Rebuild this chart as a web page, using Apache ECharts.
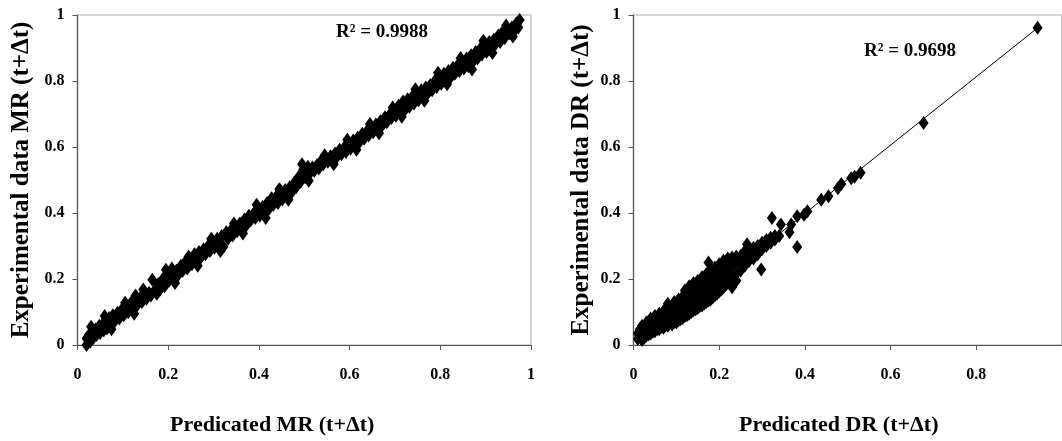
<!DOCTYPE html>
<html>
<head>
<meta charset="utf-8">
<script src="https://cdn.jsdelivr.net/npm/echarts@6/dist/echarts.min.js"></script>
<style>
  html, body { margin: 0; padding: 0; background: #fff; }
  #chart { width: 1062px; height: 441px; }
</style>
</head>
<body>
<div id="chart"></div>
<script>
// axis ticks (both panels)
var tickValues = [0, 0.2, 0.4, 0.6, 0.8, 1];

// left panel: predicted vs experimental MR
var mrPoints = [
  [0.020, 0.000], [0.020, 0.020], [0.025, 0.030], [0.028, 0.010], [0.032, 0.040], [0.035, 0.022],
  [0.040, 0.048], [0.042, 0.030], [0.048, 0.058], [0.050, 0.036], [0.055, 0.062], [0.058, 0.045],
  [0.062, 0.072], [0.065, 0.050], [0.070, 0.082], [0.073, 0.062], [0.078, 0.090], [0.082, 0.072],
  [0.088, 0.098], [0.092, 0.080], [0.098, 0.108], [0.102, 0.090], [0.108, 0.118], [0.112, 0.100],
  [0.118, 0.128], [0.122, 0.112], [0.128, 0.150], [0.132, 0.122], [0.138, 0.142], [0.142, 0.130],
  [0.148, 0.160], [0.152, 0.140], [0.158, 0.158], [0.162, 0.150], [0.165, 0.198], [0.170, 0.165],
  [0.178, 0.185], [0.182, 0.168], [0.188, 0.200], [0.192, 0.178], [0.198, 0.212], [0.202, 0.195],
  [0.208, 0.232], [0.212, 0.205], [0.218, 0.225], [0.222, 0.212], [0.228, 0.240], [0.232, 0.225],
  [0.238, 0.252], [0.242, 0.232], [0.248, 0.258], [0.252, 0.245], [0.258, 0.275], [0.262, 0.255],
  [0.268, 0.282], [0.272, 0.265], [0.278, 0.290], [0.282, 0.275], [0.288, 0.300], [0.292, 0.285],
  [0.298, 0.312], [0.302, 0.295], [0.308, 0.322], [0.312, 0.305], [0.318, 0.330], [0.322, 0.298],
  [0.328, 0.342], [0.332, 0.322], [0.338, 0.348], [0.342, 0.332], [0.348, 0.355], [0.352, 0.345],
  [0.358, 0.368], [0.362, 0.352], [0.368, 0.380], [0.372, 0.362], [0.378, 0.392], [0.382, 0.378],
  [0.388, 0.398], [0.392, 0.385], [0.398, 0.410], [0.402, 0.392], [0.408, 0.418], [0.412, 0.402],
  [0.418, 0.430], [0.422, 0.412], [0.428, 0.445], [0.432, 0.425], [0.438, 0.450], [0.442, 0.430],
  [0.448, 0.468], [0.452, 0.442], [0.458, 0.470], [0.462, 0.455], [0.468, 0.478], [0.472, 0.462],
  [0.478, 0.492], [0.482, 0.478], [0.488, 0.510], [0.492, 0.495], [0.498, 0.532], [0.502, 0.508],
  [0.508, 0.540], [0.512, 0.520], [0.518, 0.538], [0.522, 0.528], [0.528, 0.545], [0.532, 0.535],
  [0.538, 0.560], [0.542, 0.548], [0.548, 0.565], [0.552, 0.555], [0.558, 0.572], [0.562, 0.562],
  [0.568, 0.580], [0.572, 0.570], [0.578, 0.592], [0.582, 0.578], [0.588, 0.598], [0.592, 0.585],
  [0.598, 0.610], [0.602, 0.595], [0.608, 0.620], [0.612, 0.605], [0.618, 0.628], [0.622, 0.615],
  [0.628, 0.640], [0.632, 0.625], [0.638, 0.648], [0.642, 0.635], [0.648, 0.658], [0.652, 0.645],
  [0.658, 0.668], [0.662, 0.655], [0.668, 0.678], [0.672, 0.665], [0.678, 0.690], [0.682, 0.675],
  [0.688, 0.698], [0.692, 0.688], [0.698, 0.708], [0.702, 0.695], [0.708, 0.725], [0.712, 0.705],
  [0.718, 0.738], [0.722, 0.712], [0.728, 0.745], [0.732, 0.722], [0.738, 0.752], [0.742, 0.732],
  [0.748, 0.765], [0.752, 0.742], [0.758, 0.772], [0.762, 0.752], [0.768, 0.780], [0.772, 0.762],
  [0.778, 0.788], [0.782, 0.772], [0.788, 0.800], [0.792, 0.782], [0.798, 0.812], [0.802, 0.792],
  [0.808, 0.822], [0.812, 0.800], [0.818, 0.830], [0.822, 0.810], [0.828, 0.840], [0.832, 0.822],
  [0.838, 0.848], [0.842, 0.830], [0.848, 0.858], [0.852, 0.838], [0.858, 0.868], [0.862, 0.845],
  [0.868, 0.878], [0.872, 0.858], [0.878, 0.888], [0.882, 0.868], [0.888, 0.898], [0.892, 0.880],
  [0.898, 0.910], [0.902, 0.888], [0.908, 0.918], [0.912, 0.900], [0.918, 0.925], [0.922, 0.912],
  [0.928, 0.938], [0.932, 0.918], [0.938, 0.950], [0.942, 0.930], [0.948, 0.955], [0.952, 0.945],
  [0.958, 0.962], [0.962, 0.950], [0.968, 0.975], [0.972, 0.962], [0.975, 0.985]
];

// left panel: points on the upper and lower edges of the band
var mrEdgePoints = [
  [0.030, 0.055], [0.060, 0.088], [0.075, 0.048], [0.105, 0.128], [0.125, 0.095], [0.145, 0.168],
  [0.175, 0.155], [0.195, 0.228], [0.215, 0.188], [0.245, 0.268], [0.265, 0.240], [0.295, 0.322],
  [0.315, 0.285], [0.345, 0.368], [0.365, 0.338], [0.395, 0.425], [0.415, 0.385], [0.445, 0.472],
  [0.465, 0.440], [0.495, 0.548], [0.510, 0.498], [0.545, 0.575], [0.565, 0.548], [0.595, 0.622],
  [0.615, 0.592], [0.645, 0.670], [0.665, 0.642], [0.695, 0.720], [0.715, 0.692], [0.745, 0.775],
  [0.765, 0.740], [0.795, 0.825], [0.815, 0.790], [0.845, 0.870], [0.870, 0.835], [0.895, 0.922],
  [0.915, 0.885], [0.945, 0.968], [0.960, 0.935]
];

// right panel: predicted vs experimental DR
var drPoints = [
  [0.010, 0.018], [0.010, 0.035], [0.015, 0.025], [0.015, 0.048], [0.020, 0.015], [0.020, 0.038],
  [0.020, 0.058], [0.025, 0.022], [0.025, 0.045], [0.030, 0.028], [0.030, 0.052], [0.030, 0.068],
  [0.035, 0.032], [0.035, 0.058], [0.040, 0.035], [0.040, 0.060], [0.040, 0.080], [0.045, 0.040],
  [0.045, 0.065], [0.050, 0.042], [0.050, 0.068], [0.050, 0.088], [0.055, 0.048], [0.055, 0.075],
  [0.060, 0.048], [0.060, 0.072], [0.060, 0.095], [0.065, 0.055], [0.065, 0.080], [0.070, 0.052],
  [0.070, 0.078], [0.070, 0.102], [0.075, 0.060], [0.075, 0.088], [0.080, 0.058], [0.080, 0.085],
  [0.080, 0.112], [0.080, 0.125], [0.085, 0.065], [0.085, 0.095], [0.090, 0.062], [0.090, 0.090],
  [0.090, 0.118], [0.095, 0.070], [0.095, 0.100], [0.095, 0.130], [0.100, 0.068], [0.100, 0.095],
  [0.100, 0.122], [0.105, 0.075], [0.105, 0.105], [0.105, 0.138], [0.110, 0.078], [0.110, 0.102],
  [0.110, 0.128], [0.115, 0.082], [0.115, 0.112], [0.115, 0.148], [0.120, 0.088], [0.120, 0.115],
  [0.120, 0.140], [0.120, 0.165], [0.125, 0.090], [0.125, 0.122], [0.125, 0.155], [0.130, 0.095],
  [0.130, 0.125], [0.130, 0.150], [0.130, 0.178], [0.135, 0.100], [0.135, 0.132], [0.135, 0.165],
  [0.140, 0.105], [0.140, 0.135], [0.140, 0.160], [0.140, 0.188], [0.145, 0.108], [0.145, 0.140],
  [0.145, 0.172], [0.150, 0.112], [0.150, 0.145], [0.150, 0.175], [0.150, 0.195], [0.155, 0.118],
  [0.155, 0.150], [0.155, 0.182], [0.160, 0.120], [0.160, 0.155], [0.160, 0.185], [0.160, 0.205],
  [0.165, 0.125], [0.165, 0.158], [0.165, 0.192], [0.170, 0.130], [0.170, 0.162], [0.170, 0.195],
  [0.170, 0.215], [0.175, 0.135], [0.175, 0.170], [0.175, 0.250], [0.180, 0.138], [0.180, 0.175],
  [0.180, 0.205], [0.180, 0.225], [0.185, 0.145], [0.185, 0.180], [0.185, 0.212], [0.190, 0.150],
  [0.190, 0.185], [0.190, 0.215], [0.190, 0.235], [0.195, 0.155], [0.195, 0.190], [0.195, 0.225],
  [0.200, 0.162], [0.200, 0.195], [0.200, 0.228], [0.200, 0.245], [0.205, 0.168], [0.205, 0.200],
  [0.205, 0.235], [0.210, 0.175], [0.210, 0.205], [0.210, 0.240], [0.210, 0.255], [0.215, 0.182],
  [0.215, 0.215], [0.215, 0.245], [0.220, 0.188], [0.220, 0.222], [0.220, 0.262], [0.225, 0.195],
  [0.225, 0.230], [0.225, 0.258], [0.230, 0.175], [0.230, 0.205], [0.230, 0.240], [0.230, 0.265],
  [0.240, 0.195], [0.240, 0.215], [0.240, 0.250], [0.240, 0.268], [0.250, 0.225], [0.250, 0.258],
  [0.250, 0.270], [0.260, 0.240], [0.260, 0.262], [0.260, 0.285], [0.265, 0.305], [0.270, 0.255],
  [0.270, 0.275], [0.280, 0.262], [0.280, 0.285], [0.280, 0.295], [0.290, 0.275], [0.290, 0.300],
  [0.298, 0.229], [0.300, 0.290], [0.300, 0.310], [0.310, 0.300], [0.310, 0.318], [0.320, 0.310],
  [0.320, 0.325], [0.323, 0.385], [0.330, 0.320], [0.330, 0.330], [0.340, 0.330], [0.344, 0.365],
  [0.364, 0.342], [0.368, 0.365], [0.382, 0.297], [0.382, 0.390], [0.398, 0.395], [0.406, 0.405],
  [0.438, 0.440], [0.455, 0.451], [0.477, 0.475], [0.485, 0.488], [0.508, 0.505], [0.516, 0.510],
  [0.530, 0.522], [0.677, 0.673], [0.943, 0.961]
];

// linear trend line drawn through the DR points (end points)
var drTrend = [[0.015, 0.000], [0.943, 0.961]];

var mrR2 = 'R\u00b2 = 0.9988';
var drR2 = 'R\u00b2 = 0.9698';

var serif = '"Liberation Serif", "Times New Roman", serif';
var labelStyle = { fontFamily: serif, fontWeight: 'bold', fontSize: 16, color: '#000' };
var diamond = { symbol: 'diamond', symbolSize: [10, 14], itemStyle: { color: '#000', opacity: 1 }, z: 3 };

function xAxisFor(gridIndex, name, pad, hideMax) {
  return {
    type: 'value', gridIndex: gridIndex, min: tickValues[0], max: tickValues[tickValues.length - 1], interval: 0.2,
    name: name, nameLocation: 'middle', nameGap: 69,
    nameTextStyle: { fontFamily: serif, fontWeight: 'bold', fontSize: 22, color: '#000', padding: [0, pad, 0, 0] },
    axisLine: { show: true, lineStyle: { color: '#555', width: 1.2 } },
    axisTick: { show: true, inside: false, length: 5, lineStyle: { color: '#555' } },
    axisLabel: Object.assign({ margin: 22, showMaxLabel: !hideMax }, labelStyle),
    splitLine: { show: false }
  };
}

function yAxisFor(gridIndex, name, gap) {
  return {
    type: 'value', gridIndex: gridIndex, min: tickValues[0], max: tickValues[tickValues.length - 1], interval: 0.2,
    name: name, nameLocation: 'middle', nameGap: gap, nameRotate: 90,
    nameTextStyle: { fontFamily: serif, fontWeight: 'bold', fontSize: 25, color: '#000' },
    axisLine: { show: true, lineStyle: { color: '#555', width: 1.2 } },
    axisTick: { show: true, inside: false, length: 5, lineStyle: { color: '#555' } },
    axisLabel: Object.assign({ margin: 13 }, labelStyle),
    splitLine: { show: false }
  };
}

var chart = echarts.init(document.getElementById('chart'), null, { renderer: 'canvas' });
chart.setOption({
  animation: false,
  backgroundColor: '#fff',
  grid: [
    { left: 77.5, top: 15, width: 453.5, height: 335, show: true, borderColor: '#c8c8c8', borderWidth: 1.5 },
    { left: 633.5, top: 15, width: 434, height: 333, show: true, borderColor: '#c8c8c8', borderWidth: 1.5 }
  ],
  xAxis: [
    xAxisFor(0, 'Predicated MR (t+\u0394t)', 64, false),
    xAxisFor(1, 'Predicated DR (t+\u0394t)', 18, true)
  ],
  yAxis: [
    yAxisFor(0, 'Experimental data MR (t+\u0394t)', 43),
    yAxisFor(1, 'Experimental data DR (t+\u0394t)', 39)
  ],
  series: [
    Object.assign({ type: 'scatter', xAxisIndex: 0, yAxisIndex: 0, data: mrPoints }, diamond),
    Object.assign({ type: 'scatter', xAxisIndex: 0, yAxisIndex: 0, data: mrEdgePoints }, diamond),
    {
      type: 'line', xAxisIndex: 1, yAxisIndex: 1, data: drTrend,
      symbol: 'none', lineStyle: { color: '#000', width: 1 }, z: 2
    },
    Object.assign({ type: 'scatter', xAxisIndex: 1, yAxisIndex: 1, data: drPoints }, diamond)
  ],
  graphic: [
    { type: 'text', x: 382, y: 32, z: 10,
      style: { text: mrR2, fontFamily: serif, fontWeight: 'bold', fontSize: 19, fill: '#000', align: 'center', verticalAlign: 'middle' } },
    { type: 'text', x: 910, y: 51, z: 10,
      style: { text: drR2, fontFamily: serif, fontWeight: 'bold', fontSize: 19, fill: '#000', align: 'center', verticalAlign: 'middle' } }
  ]
});
window.addEventListener('resize', function () { chart.resize(); });
</script>
</body>
</html>
